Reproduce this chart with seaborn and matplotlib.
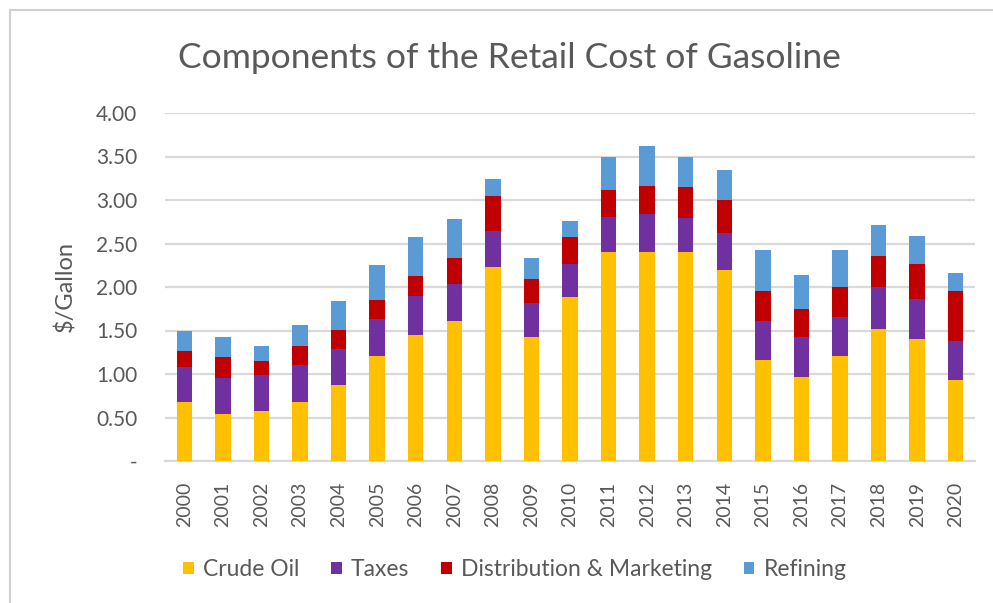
import numpy as np
import pandas as pd
import matplotlib
matplotlib.use("Agg")
import matplotlib.pyplot as plt
from matplotlib.patches import Patch
from matplotlib.lines import Line2D
import seaborn as sns

years = [str(y) for y in range(2000, 2021)]
crude_oil = [0.68, 0.54, 0.57, 0.68, 0.87, 1.21, 1.45, 1.61, 2.23, 1.42, 1.88,
             2.40, 2.40, 2.40, 2.20, 1.16, 0.97, 1.21, 1.52, 1.40, 0.93]
taxes = [0.40, 0.41, 0.42, 0.42, 0.42, 0.42, 0.45, 0.42, 0.41, 0.40, 0.39,
         0.40, 0.44, 0.39, 0.42, 0.45, 0.45, 0.44, 0.48, 0.46, 0.45]
distribution = [0.19, 0.24, 0.16, 0.22, 0.22, 0.22, 0.23, 0.30, 0.41, 0.27, 0.30,
                0.31, 0.32, 0.36, 0.38, 0.34, 0.33, 0.35, 0.36, 0.41, 0.57]
refining = [0.23, 0.23, 0.17, 0.24, 0.33, 0.40, 0.44, 0.45, 0.19, 0.24, 0.19,
            0.39, 0.46, 0.35, 0.35, 0.48, 0.39, 0.43, 0.35, 0.32, 0.21]
series_names = ["Crude Oil", "Taxes", "Distribution & Marketing", "Refining"]
colors = ["#FFC000", "#7030A0", "#C00000", "#5B9BD5"]
yticks = [0, 0.5, 1.0, 1.5, 2.0, 2.5, 3.0, 3.5, 4.0]
ytick_labels = ["-", "0.50", "1.00", "1.50", "2.00", "2.50", "3.00", "3.50", "4.00"]

df = pd.DataFrame({"year": years, "Crude Oil": crude_oil, "Taxes": taxes,
                   "Distribution & Marketing": distribution, "Refining": refining})
cum = df[series_names].cumsum(axis=1)

sns.set_theme(style="white")
plt.rcParams["font.family"] = ["Lato", "DejaVu Sans"]
grey = "#595959"

fig = plt.figure(figsize=(9.93, 6.03), dpi=100)
ax = fig.add_axes([165/993, 1-461/603, (975-165)/993, (461-113)/603])

for name, col in reversed(list(zip(series_names, colors))):
    sns.barplot(x=df["year"], y=cum[name], color=col, width=0.4, ax=ax,
                saturation=1, edgecolor="none", linewidth=0, zorder=3)

ax.set_ylim(0, 4.0)
ax.set_xlim(-0.5, len(years) - 0.5)
ax.set_yticks(yticks)
ax.set_yticklabels(ytick_labels, color=grey, fontsize=15)
ax.tick_params(axis="y", length=0, pad=20)
ax.tick_params(axis="x", length=0, pad=15)
ax.set_xticks(range(len(years)))
ax.set_xticklabels(years, rotation=90, color=grey, fontsize=14)
ax.set_xlabel("")
ax.set_ylabel("$/Gallon", color=grey, fontsize=17, labelpad=14)
ax.grid(axis="y", color="#D9D9D9", linewidth=1.6, zorder=0)
for s in ["top", "right", "left"]:
    ax.spines[s].set_visible(False)
ax.spines["bottom"].set_color("#D9D9D9")
ax.spines["bottom"].set_linewidth(1.6)

fig.text(509/993, 1-58/603, "Components of the Retail Cost of Gasoline",
         ha="center", va="center", fontsize=25.5, color=grey)

handles = [Patch(facecolor=c, edgecolor="none") for c in colors]
fig.legend(handles, series_names, loc="center", bbox_to_anchor=(515/993, 1-570/603),
           ncol=4, frameon=False, fontsize=16.5, labelcolor=grey,
           handlelength=0.45, handleheight=0.45, handletextpad=0.4, columnspacing=1.4)

fig.add_artist(Line2D([10/993, 1.0], [1-10/603, 1-10/603], transform=fig.transFigure,
                      color="#D0D0D0", linewidth=1.5))
fig.add_artist(Line2D([10/993, 10/993], [0, 1-10/603], transform=fig.transFigure,
                      color="#D0D0D0", linewidth=1.5))

fig.savefig("out.png", dpi=100)
